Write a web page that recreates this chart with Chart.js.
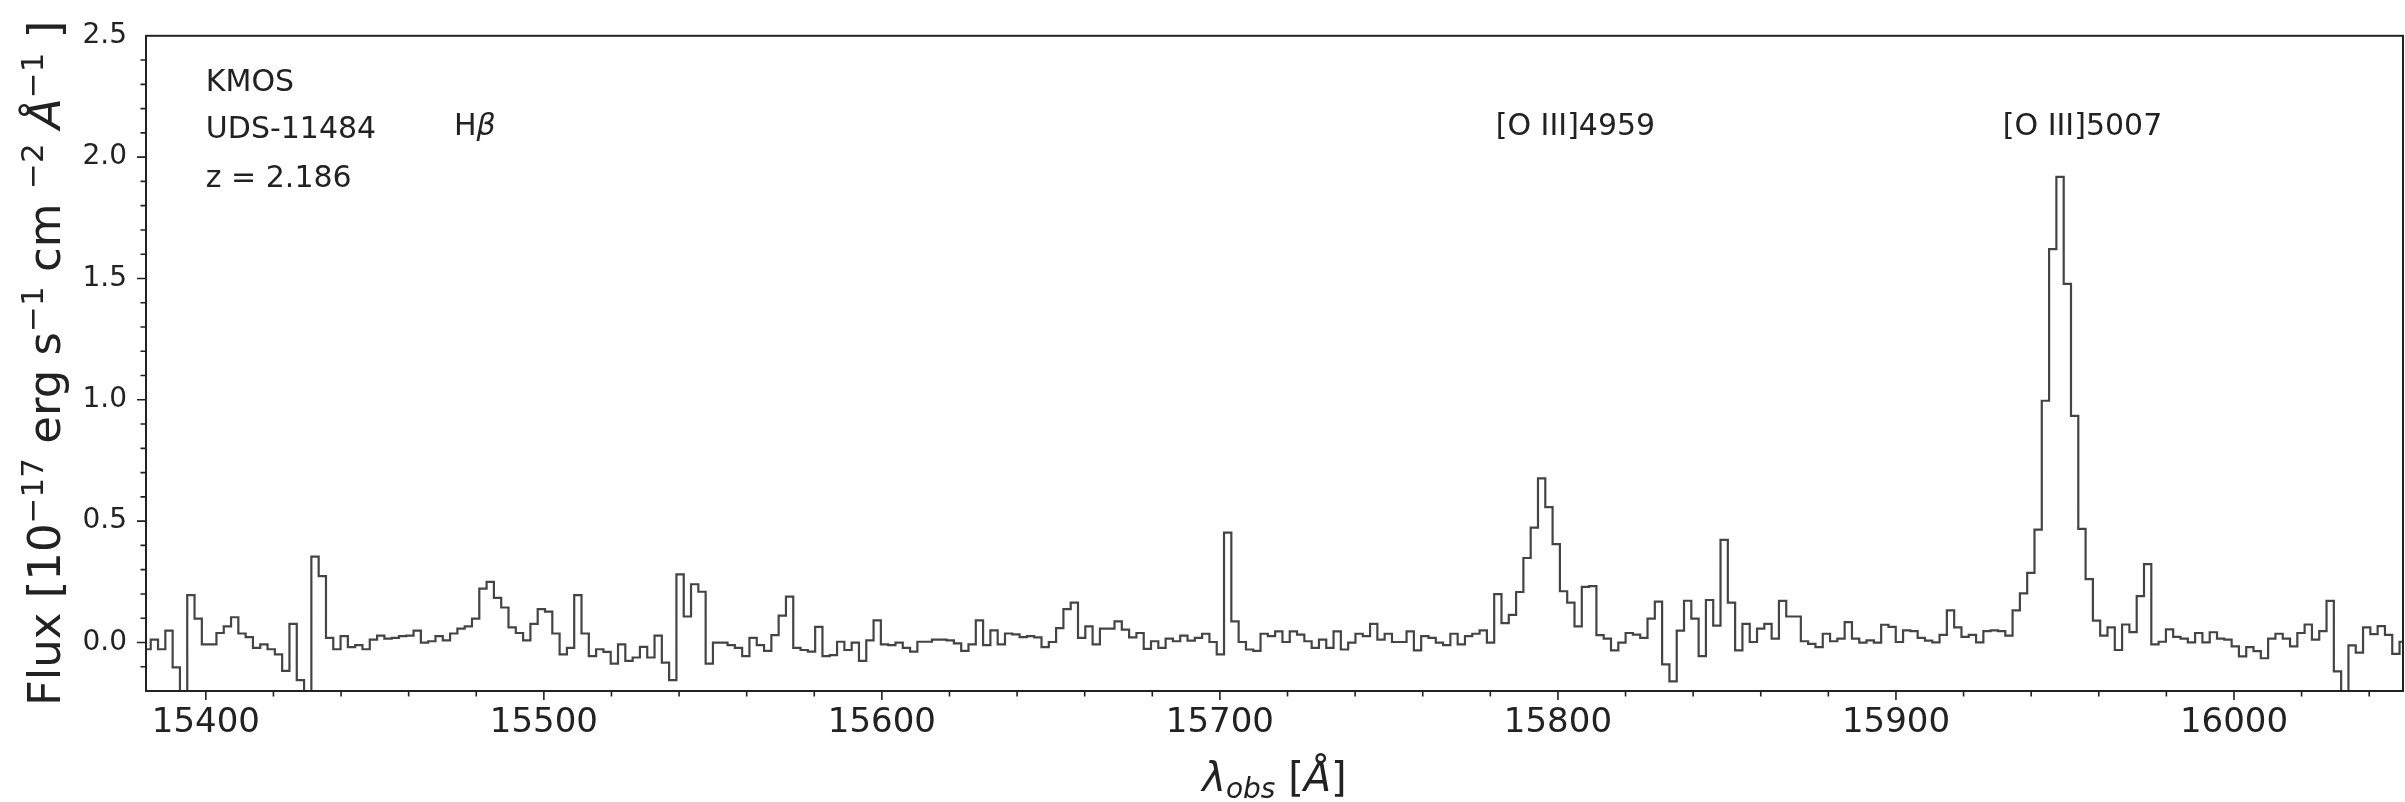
<!DOCTYPE html>
<html>
<head>
<meta charset="utf-8">
<title>UDS-11484 KMOS spectrum</title>
<script src="https://cdn.jsdelivr.net/npm/chart.js@4.4.1/dist/chart.umd.min.js"></script>
<style>
  html, body { margin: 0; padding: 0; background: #fff; }
</style>
</head>
<body>
<canvas id="spec" width="2405" height="802"></canvas>
<script>
'use strict';

// KMOS H-band spectrum of UDS-11484, one flux value per 2.16 A pixel
var lamStart = 15382.62;   // centre of the first pixel [A]
var lamStep = 2.16;
var flux = [
  -0.028, 0.012, -0.028, 0.049, -0.103, -0.35, 0.195, 0.098, -0.008, -0.008,
  0.039, 0.066, 0.104, 0.037, 0.022, -0.022, -0.008, -0.028, -0.049, -0.117,
  0.077, -0.155, -0.35, 0.354, 0.273, 0.019, -0.028, 0.026, -0.019, -0.011,
  -0.028, 0.012, 0.028, 0.016, 0.019, 0.026, 0.028, 0.049, -0.001, 0.005,
  0.026, 0.009, 0.037, 0.057, 0.066, 0.098, 0.222, 0.250, 0.184, 0.144,
  0.062, 0.039, 0.009, 0.077, 0.137, 0.127, 0.037, -0.049, -0.022, 0.195,
  0.037, -0.056, -0.028, -0.039, -0.087, -0.008, -0.076, -0.062, -0.018, -0.062,
  0.028, -0.083, -0.155, 0.281, 0.107, 0.240, 0.209, -0.087, -0.001, -0.001,
  -0.011, -0.022, -0.056, 0.019, -0.011, -0.035, 0.030, 0.111, 0.189, -0.022,
  -0.031, -0.038, 0.064, -0.056, -0.052, 0.003, -0.031, -0.001, -0.076, 0.009,
  0.091, -0.008, -0.011, -0.001, -0.022, -0.038, 0.003, 0.003, 0.012, 0.012,
  0.009, -0.004, -0.035, -0.008, 0.091, -0.011, 0.050, -0.008, 0.037, 0.033,
  0.022, 0.026, 0.021, -0.019, 0.002, 0.059, 0.137, 0.164, 0.019, 0.066,
  -0.008, 0.057, 0.057, 0.087, 0.053, 0.021, 0.039, -0.026, 0.005, -0.022,
  0.016, 0.005, 0.028, 0.008, 0.019, 0.036, 0.002, -0.049, 0.453, 0.087,
  0.002, -0.029, -0.035, 0.036, 0.026, 0.046, 0.002, 0.046, 0.032, 0.005,
  -0.022, 0.012, -0.022, 0.046, -0.029, -0.001, 0.036, 0.026, 0.077, 0.012,
  0.036, 0.002, 0.002, 0.046, -0.033, 0.026, 0.019, -0.001, -0.011, 0.036,
  -0.008, 0.026, 0.036, 0.050, -0.001, 0.199, 0.080, 0.114, 0.208, 0.348,
  0.473, 0.676, 0.558, 0.405, 0.211, 0.164, 0.066, 0.229, 0.232, 0.030,
  0.016, -0.033, -0.001, 0.039, 0.032, 0.019, 0.098, 0.168, -0.090, -0.160,
  0.049, 0.172, 0.098, -0.056, 0.175, 0.069, 0.423, 0.164, -0.033, 0.077,
  0.002, 0.057, 0.077, 0.016, 0.171, 0.107, 0.107, 0.005, -0.006, -0.019,
  0.036, 0.005, 0.016, 0.084, 0.016, -0.001, 0.009, -0.001, 0.073, 0.064,
  0.002, 0.050, 0.047, 0.019, 0.008, 0.000, 0.031, 0.132, 0.062, 0.023,
  0.031, 0.000, 0.047, 0.050, 0.047, 0.028, 0.132, 0.202, 0.287, 0.465,
  0.996, 1.621, 1.919, 1.478, 0.934, 0.468, 0.261, 0.090, 0.028, 0.062,
  -0.031, 0.074, 0.043, 0.191, 0.323, -0.008, 0.003, 0.054, 0.023, 0.016,
  0.000, 0.039, 0.000, 0.042, 0.016, 0.012, -0.016, -0.057, -0.019, -0.036,
  -0.065, 0.016, 0.036, 0.016, -0.016, 0.039, 0.074, 0.012, 0.047, 0.171,
  -0.119, -0.35, -0.012, -0.042, 0.062, 0.034, 0.067, 0.031, -0.047, 0.003
];

var xTicks = [15400, 15500, 15600, 15700, 15800, 15900, 16000];
var yTicks = [0.0, 0.5, 1.0, 1.5, 2.0, 2.5];

// object info, top left corner
var infoText = ['KMOS', 'UDS-11484', 'z = 2.186'];
var infoFlux = [2.272, 2.080, 1.877];
var infoLam = 15400;

// emission line names
var lineNames = ['H', '[O III]4959', '[O III]5007'];
var lineLam = [15473.4, 15781.6, 15931.6];
var lineFlux = 2.09;

var FONT = 'DejaVu Sans';
var INK = '#222';

// draw a run of text pieces one after the other (for sub/superscripts)
function runWidth(ctx, runs) {
  var w = 0;
  runs.forEach(function(r) { ctx.font = r.f; w += ctx.measureText(r.t).width; });
  return w;
}
function drawRuns(ctx, runs, x, y) {
  runs.forEach(function(r) {
    ctx.font = r.f;
    ctx.fillText(r.t, x, y + (r.dy || 0));
    x += ctx.measureText(r.t).width;
  });
  return x;
}

var xTitle = [
  {t: 'λ', f: 'italic 40px ' + FONT},
  {t: 'obs', f: 'italic 28px ' + FONT, dy: 7},
  {t: ' [', f: '40px ' + FONT},
  {t: 'Å', f: 'italic 40px ' + FONT},
  {t: ']', f: '40px ' + FONT}
];
var sup = '31px ' + FONT;
var yTitle = [
  {t: 'Flux [10', f: '45px ' + FONT},
  {t: '−17', f: sup, dy: -17},
  {t: ' erg s', f: '45px ' + FONT},
  {t: '−1', f: sup, dy: -17},
  {t: ' cm ', f: '45px ' + FONT},
  {t: '−2', f: sup, dy: -17},
  {t: ' ', f: '45px ' + FONT},
  {t: 'Å', f: 'italic 45px ' + FONT},
  {t: '−1', f: sup, dy: -17},
  {t: ' ]', f: '45px ' + FONT}
];

var spectrumFrame = {
  id: 'spectrumFrame',
  beforeDraw: function(chart) {
    var ctx = chart.ctx;
    ctx.save();
    ctx.fillStyle = '#fff';
    ctx.fillRect(0, 0, chart.width, chart.height);
    ctx.restore();
  },
  afterDraw: function(chart) {
    var ctx = chart.ctx;
    var a = chart.chartArea;
    var xs = chart.scales.x;
    var ys = chart.scales.y;
    var i, p, len;

    ctx.save();
    ctx.strokeStyle = INK;
    ctx.lineWidth = 2;
    ctx.strokeRect(a.left, a.top, a.right - a.left, a.bottom - a.top);

    // outward ticks, minor every 20 A and 0.1
    ctx.lineWidth = 1.6;
    ctx.beginPath();
    for (i = 0; i <= 32; i++) {
      p = xs.getPixelForValue(15400 + 20 * i);
      len = (i % 5 === 0) ? 9 : 5.5;
      ctx.moveTo(p, a.bottom);
      ctx.lineTo(p, a.bottom + len);
    }
    for (i = -1; i <= 24; i++) {
      p = ys.getPixelForValue(i / 10);
      len = (i % 5 === 0) ? 9 : 5.5;
      ctx.moveTo(a.left, p);
      ctx.lineTo(a.left - len, p);
    }
    ctx.stroke();

    ctx.fillStyle = INK;
    ctx.textBaseline = 'alphabetic';
    ctx.textAlign = 'left';

    // object info
    ctx.font = '30px ' + FONT;
    infoText.forEach(function(t, k) {
      ctx.fillText(t, xs.getPixelForValue(infoLam), ys.getPixelForValue(infoFlux[k]));
    });

    // line labels
    var ly = ys.getPixelForValue(lineFlux);
    lineNames.forEach(function(t, k) {
      var lx = xs.getPixelForValue(lineLam[k]);
      ctx.font = '30px ' + FONT;
      ctx.fillText(t, lx, ly);
      if (k === 0) {
        var w = ctx.measureText(t).width;
        ctx.font = 'italic 30px ' + FONT;
        ctx.fillText('β', lx + w, ly);
      }
    });

    // axis titles
    var cx = (a.left + a.right) / 2;
    drawRuns(ctx, xTitle, cx - runWidth(ctx, xTitle) / 2, 791);

    ctx.translate(60, (a.top + a.bottom) / 2);
    ctx.rotate(-Math.PI / 2);
    drawRuns(ctx, yTitle, -runWidth(ctx, yTitle) / 2, 0);
    ctx.restore();
  }
};

var points = flux.map(function(f, i) {
  return {x: lamStart + i * lamStep, y: f};
});

new Chart(document.getElementById('spec'), {
  type: 'line',
  data: {
    datasets: [{
      data: points,
      stepped: 'middle',
      borderColor: '#444',
      borderWidth: 2.2,
      pointRadius: 0,
      fill: false
    }]
  },
  options: {
    responsive: false,
    animation: false,
    devicePixelRatio: 1,
    layout: {padding: {top: 27, right: 2, left: 0, bottom: 0}},
    plugins: {legend: {display: false}, tooltip: {enabled: false}},
    scales: {
      x: {
        type: 'linear',
        min: 15382.3,
        max: 16050,
        grid: {display: false, drawTicks: false},
        border: {display: false},
        afterBuildTicks: function(s) { s.ticks = xTicks.map(function(v) { return {value: v}; }); },
        afterFit: function(s) { s.height = 111; },
        ticks: {
          font: {family: FONT, size: 34},
          color: INK,
          padding: 12,
          maxRotation: 0,
          autoSkip: false,
          callback: function(v) { return String(v); }
        }
      },
      y: {
        min: -0.2,
        max: 2.5,
        grid: {display: false, drawTicks: false},
        border: {display: false},
        afterBuildTicks: function(s) { s.ticks = yTicks.map(function(v) { return {value: v}; }); },
        afterFit: function(s) { s.width = 146; },
        ticks: {
          font: {family: FONT, size: 28},
          color: INK,
          padding: 19,
          callback: function(v) { return v.toFixed(1); }
        }
      }
    }
  },
  plugins: [spectrumFrame]
});
</script>
</body>
</html>
